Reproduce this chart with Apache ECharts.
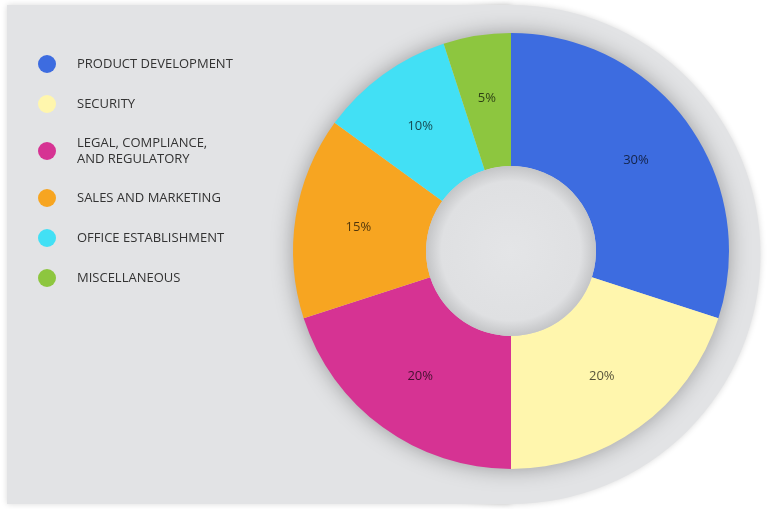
<!DOCTYPE html>
<html>
<head>
<meta charset="utf-8">
<script src="https://cdn.jsdelivr.net/npm/echarts@6/dist/echarts.min.js"></script>
<style>
html,body{margin:0;padding:0;background:#ffffff;}
#chart{width:768px;height:509px;}
</style>
</head>
<body>
<div id="chart"></div>
<script>
const categories = [
  'PRODUCT DEVELOPMENT',
  'SECURITY',
  'LEGAL, COMPLIANCE,\nAND REGULATORY',
  'SALES AND MARKETING',
  'OFFICE ESTABLISHMENT',
  'MISCELLANEOUS'
];
const values = [30, 20, 20, 15, 10, 5];
const colors = ['#3d6ce0', '#fff6ad', '#d63393', '#f7a521', '#42e0f5', '#8dc63f'];

const chart = echarts.init(document.getElementById('chart'));
const FONT = '"Open Sans", "Noto Sans", sans-serif';

chart.setOption({
  backgroundColor: '#ffffff',
  color: colors,
  animation: false,
  graphic: [
    {
      type: 'rect',
      z: -10,
      shape: { x: 7, y: 5, width: 504, height: 499 },
      style: {
        fill: '#e2e3e5',
        shadowBlur: 6,
        shadowColor: 'rgba(0,0,0,0.15)'
      }
    },
    {
      type: 'circle',
      z: -9,
      shape: { cx: 511, cy: 254.5, r: 249.5 },
      style: {
        fill: '#e2e3e5',
        shadowBlur: 6,
        shadowColor: 'rgba(0,0,0,0.15)'
      }
    },
    {
      type: 'rect',
      z: -8,
      shape: { x: 7, y: 5, width: 504, height: 499 },
      style: { fill: '#e2e3e5' }
    },
    {
      type: 'circle',
      z: -5,
      shape: { cx: 511, cy: 251, r: 217 },
      style: {
        fill: '#d0d1d3',
        shadowBlur: 22,
        shadowColor: 'rgba(0,0,0,0.35)'
      }
    },
    {
      type: 'circle',
      z: 10,
      shape: { cx: 511, cy: 251, r: 85 },
      style: {
        fill: {
          type: 'radial', x: 0.5, y: 0.5, r: 0.5,
          colorStops: [
            { offset: 0, color: '#e4e5e7' },
            { offset: 0.82, color: '#dfe0e2' },
            { offset: 1, color: '#c4c5c7' }
          ]
        }
      }
    }
  ],
  legend: {
    orient: 'vertical',
    left: 38,
    top: 55,
    icon: 'circle',
    itemWidth: 50,
    itemHeight: 18,
    itemGap: 22,
    padding: 0,
    textStyle: {
      fontFamily: FONT,
      fontSize: 13,
      color: '#333333',
      lineHeight: 16
    },
    data: categories
  },
  series: [
    {
      type: 'pie',
      center: [511, 251],
      radius: [85, 218],
      startAngle: 90,
      clockwise: true,
      avoidLabelOverlap: false,
      itemStyle: { borderWidth: 0 },
      label: {
        show: true,
        position: 'inside',
        formatter: '{d}%',
        fontFamily: FONT,
        fontSize: 13,
        color: 'rgba(0,0,0,0.68)'
      },
      labelLine: { show: false },
      emphasis: { disabled: true },
      data: categories.map((c, i) => ({ name: c, value: values[i] }))
    }
  ]
});
</script>
</body>
</html>
